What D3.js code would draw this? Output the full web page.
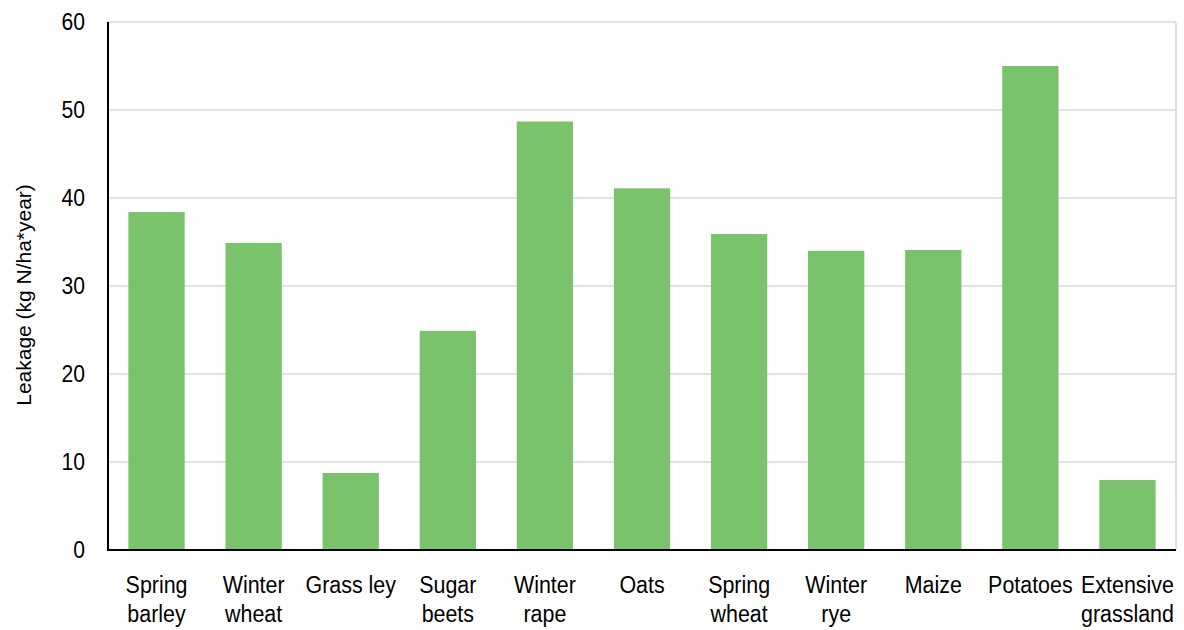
<!DOCTYPE html>
<html><head><meta charset="utf-8">
<script src="https://cdn.jsdelivr.net/npm/d3@7"></script>
<style>body{margin:0;background:#fff}svg{display:block}text{font-family:"Liberation Sans",Arial,sans-serif;fill:#000}</style>
</head><body><svg id="c" width="1184" height="630"></svg>
<script>
const categories = [["Spring","barley"],["Winter","wheat"],["Grass ley"],["Sugar","beets"],["Winter","rape"],["Oats"],["Spring","wheat"],["Winter","rye"],["Maize"],["Potatoes"],["Extensive","grassland"]];
const values = [38.4, 34.9, 8.75, 24.9, 48.7, 41.1, 35.9, 34.0, 34.1, 55.0, 7.95];
const yTicks = [0,10,20,30,40,50,60];
const yTitle = "Leakage (kg N/ha*year)";

const svg = d3.select("#c");
const m = {l:108, r:1176, t:22, b:550};
const x = d3.scaleBand().domain(d3.range(categories.length)).range([m.l, m.r]).paddingInner(0.42).paddingOuter(0.21);
const y = d3.scaleLinear().domain([0,60]).range([m.b, m.t]);

// gridlines
svg.append("g").selectAll("line").data(yTicks.filter(d=>d>0)).join("line")
  .attr("x1", m.l).attr("x2", m.r).attr("y1", d=>y(d)).attr("y2", d=>y(d))
  .attr("stroke", "#d9d9d9").attr("stroke-width", 1.5);
svg.append("line").attr("x1", m.r).attr("x2", m.r).attr("y1", m.t).attr("y2", m.b)
  .attr("stroke", "#d9d9d9").attr("stroke-width", 1.5);

// bars
svg.append("g").selectAll("rect").data(values).join("rect")
  .attr("x", (d,i)=>x(i)).attr("width", x.bandwidth())
  .attr("y", d=>y(d)).attr("height", d=>m.b - y(d))
  .attr("fill", "#7bc26d");

// axes
svg.append("line").attr("x1", m.l).attr("x2", m.l).attr("y1", m.t).attr("y2", m.b+1).attr("stroke","#000").attr("stroke-width",2);
svg.append("line").attr("x1", m.l-1).attr("x2", m.r).attr("y1", m.b).attr("y2", m.b).attr("stroke","#000").attr("stroke-width",2);

// y tick labels
svg.append("g").selectAll("text").data(yTicks).join("text")
  .attr("transform", d=>`translate(85,${y(d)}) scale(0.92,1)`).attr("dy", "0.36em")
  .attr("text-anchor", "end").style("font-size", "23px").text(d=>d);

// category labels
const cl = svg.append("g").selectAll("text").data(categories).join("text")
  .attr("text-anchor", "middle").style("font-size", "24.5px")
  .attr("transform", (d,i)=>`translate(${x(i)+x.bandwidth()/2},593) scale(0.875,1)`);
cl.selectAll("tspan").data(d=>d).join("tspan")
  .attr("x", 0).attr("y", (d,j)=>j*29.5).text(d=>d);

// y title
svg.append("text").attr("transform", "translate(31,295) rotate(-90) scale(1,0.92)")
  .attr("text-anchor", "middle").style("font-size", "21px").text(yTitle);
</script></body></html>
